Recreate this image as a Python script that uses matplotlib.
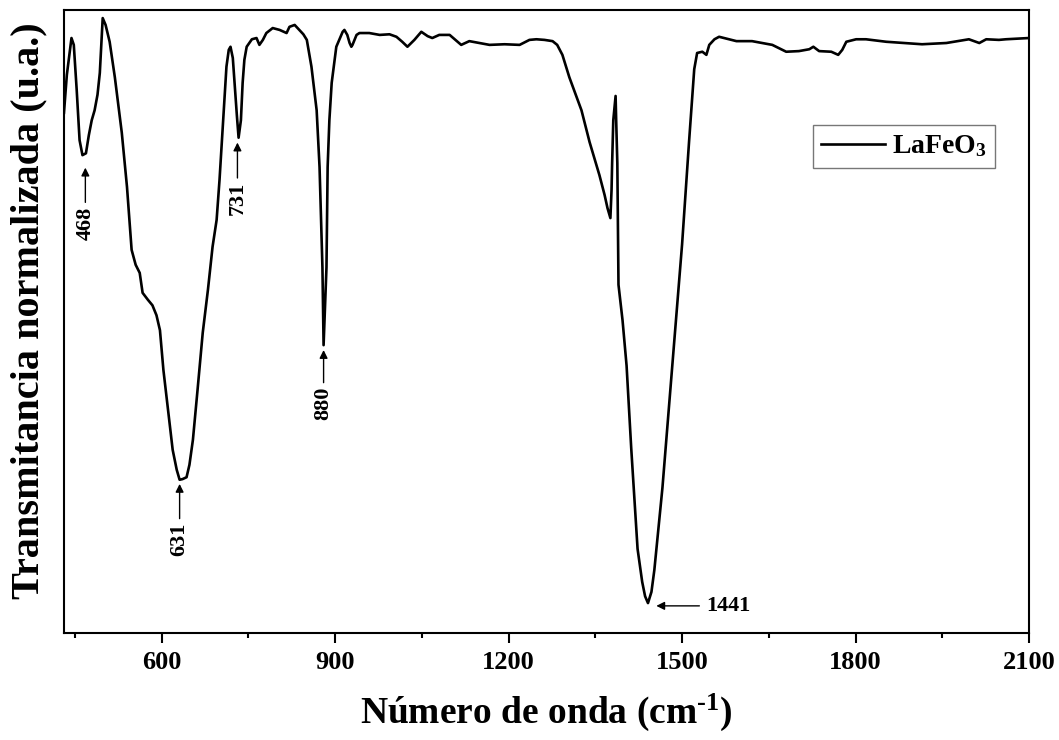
''' Espectro FTIR de LaFeO3 '''
import numpy as np
import matplotlib
matplotlib.use('Agg')
import matplotlib.pyplot as plt
from matplotlib.ticker import MultipleLocator
from matplotlib.transforms import offset_copy

wavenumber = [431, 436, 444, 448, 453, 458, 463, 469, 474, 479, 484, 489, 493, 498, 503,
              510, 519, 531, 540, 548, 555, 562, 567, 576, 584, 591, 597, 603, 609, 619,
              626, 631, 636, 643, 648, 654, 662, 671, 680, 688, 695, 700, 705, 712, 716,
              719, 723, 726, 730, 733, 737, 740, 743, 747, 756, 764, 769, 775, 781, 792,
              804, 816, 821, 830, 838, 845, 851, 859, 868, 873, 878, 880, 885, 887, 890,
              894, 902, 913, 916, 921, 925, 928, 930, 937, 942, 959, 977, 994, 1006, 1016,
              1025, 1037, 1049, 1060, 1068, 1080, 1098, 1108, 1118, 1132, 1150, 1167, 1193,
              1219, 1236, 1248, 1262, 1276, 1284, 1293, 1305, 1315, 1326, 1340, 1357, 1366,
              1371, 1376, 1378, 1379, 1381, 1385, 1386, 1388, 1390, 1397, 1404, 1412, 1423,
              1431, 1436, 1441, 1447, 1452, 1466, 1483, 1500, 1512, 1521, 1526, 1535, 1542,
              1547, 1556, 1564, 1594, 1621, 1656, 1680, 1702, 1720, 1727, 1737, 1758, 1770,
              1777, 1784, 1801, 1818, 1853, 1884, 1915, 1957, 1996, 2014, 2026, 2048, 2060,
              2100]
transmitance = [.835, .896, .955, .944, .872, .791, .767, .770, .799, .823, .839, .864, .899, .987, .976,
                .949, .892, .803, .716, .615, .591, .578, .546, .535, .526, .510, .486, .422, .374, .294,
                .262, .246, .247, .250, .270, .310, .390, .482, .551, .620, .663, .727, .803, .909, .936,
                .941, .923, .883, .831, .795, .823, .883, .920, .941, .953, .955, .944, .952, .963, .971,
                .968, .963, .973, .976, .968, .961, .952, .909, .839, .748, .587, .462, .587, .748, .823,
                .883, .941, .965, .968, .960, .947, .941, .944, .960, .963, .963, .960, .961, .957, .949,
                .941, .952, .965, .958, .955, .960, .960, .952, .944, .950, .947, .944, .945,
                .944, .952, .953, .952, .950, .944, .928, .892, .867, .839, .788, .735, .703,
                .682, .666, .711, .754, .823, .862, .823, .754, .559, .502, .429, .297, .135,
                .082, .059, .048, .066, .101, .233, .429, .624, .788, .905, .931, .933, .928,
                .944, .953, .957, .950, .950, .944, .933, .934, .937, .941, .934, .933, .928,
                .936, .949, .953, .953, .949, .947, .945, .947, .953, .947, .953, .952, .953,
                .955]

# Picos marcados: (posicion, desplazamiento del texto en pt, separacion de la flecha en pt)
peaks = [468, 631, 731, 880]
peak_text_offset = [-37, -31, -32, -30]
peak_arrow_gap = [9, 3, 3.5, 3.5]
peak_main = 1441

plt.rcParams['font.family'] = ['Liberation Serif', 'DejaVu Serif']
plt.rcParams['font.weight'] = 'bold'
plt.rcParams['mathtext.default'] = 'regular'

fig = plt.figure(figsize=(10.59, 7.40), dpi=100)
ax = fig.add_axes([0.0604, 0.1446, 0.9113, 0.8419])

ax.plot(wavenumber, transmitance, color='black', lw=1.9, label='LaFeO$_3$')

ax.set_xlim(431, 2100)
ax.set_ylim(0, 1)
ax.xaxis.set_major_locator(MultipleLocator(300))
ax.xaxis.set_minor_locator(MultipleLocator(150))
ax.set_xticks([600, 900, 1200, 1500, 1800, 2100])
ax.tick_params(axis='x', which='major', direction='out', length=7, width=1.5, labelsize=19, pad=6)
ax.tick_params(axis='x', which='minor', direction='out', length=3.6, width=1.5)
ax.set_yticks([])
for s in ax.spines.values():
    s.set_linewidth(1.5)

ax.set_xlabel('Número de onda (cm$^{\u2010 1}$)', fontsize=27, fontweight='bold', labelpad=13)
ax.set_ylabel('Transmitancia normalizada (u.a.)', fontsize=29, fontweight='bold')
ax.yaxis.set_label_coords(-0.017, 0.518)

# Flechas de los picos
wn_arr = np.array(wavenumber)
tr_arr = np.array(transmitance)
for x, dy, gap in zip(peaks, peak_text_offset, peak_arrow_gap):
    y = tr_arr[np.abs(wn_arr - x) < 8].min()
    ax.annotate(str(x), xy=(x, y), xytext=(0, dy), textcoords='offset points',
                rotation=90, ha='center', va='top', fontsize=16, fontweight='bold',
                arrowprops=dict(arrowstyle='-|>', color='black', lw=1, shrinkA=1, shrinkB=gap,
                                mutation_scale=12))

y1441 = np.interp(peak_main, wavenumber, transmitance)
ax.annotate(str(peak_main), xy=(peak_main, y1441),
            xycoords=offset_copy(ax.transData, fig=fig, x=0, y=-2, units='points'),
            xytext=(42, 0), textcoords='offset points',
            ha='left', va='center', fontsize=16, fontweight='bold',
            arrowprops=dict(arrowstyle='-|>', color='black', lw=1, shrinkA=3, shrinkB=6,
                            mutation_scale=12))

leg = ax.legend(loc='upper right', bbox_to_anchor=(0.9648, 0.8154), fancybox=False,
                edgecolor='#555555', handlelength=2.3, handletextpad=0.25, borderpad=0.3,
                borderaxespad=0, prop={'weight': 'bold', 'size': 20})
leg.get_frame().set_linewidth(1)

fig.savefig('out.png', dpi=100)
